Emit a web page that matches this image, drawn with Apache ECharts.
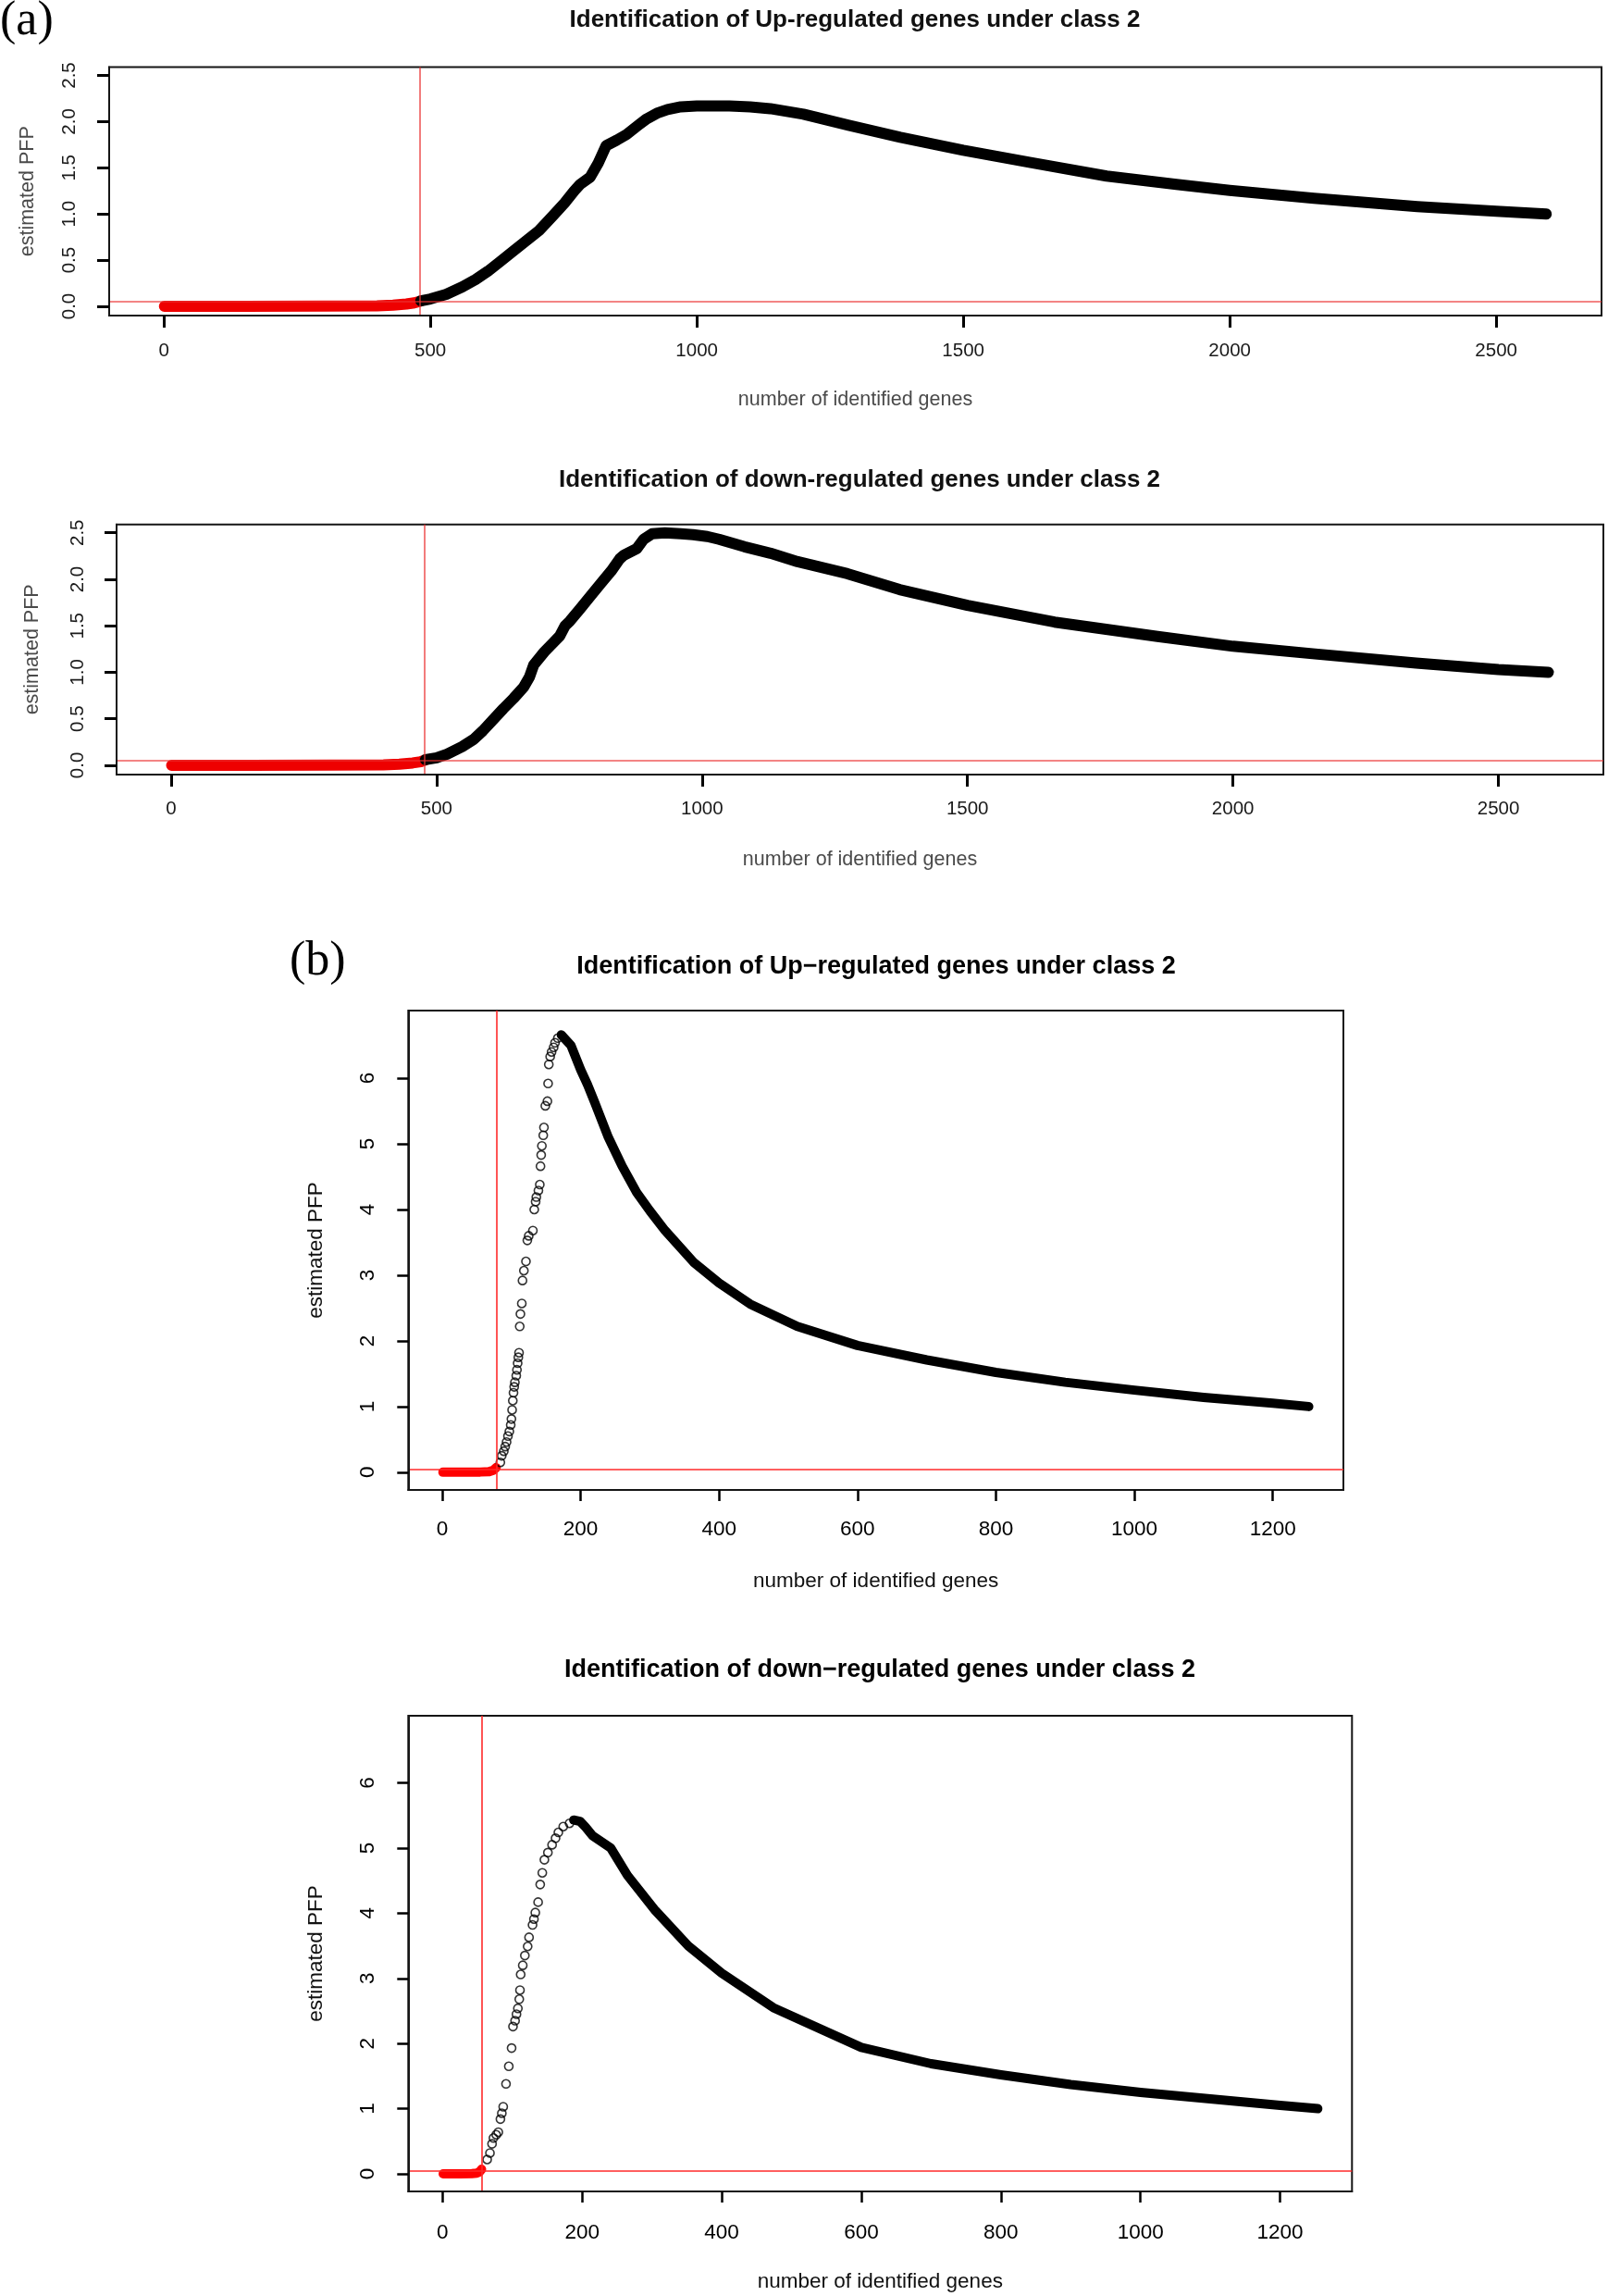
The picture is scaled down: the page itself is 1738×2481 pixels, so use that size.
<!DOCTYPE html>
<html>
<head>
<meta charset="utf-8">
<script src="https://cdn.jsdelivr.net/npm/echarts@6/dist/echarts.min.js"></script>
<style>
html,body{margin:0;padding:0;background:#fff;}
#chart{width:1738px;height:2481px;}
</style>
</head>
<body>
<div id="chart"></div>
<script>
// ---------------- DATA ----------------
// Panel (a), top: Up-regulated genes, class 2
const aUpRedX = [1, 150, 300, 400, 430, 455, 470, 481];
const aUpRedY = [0, 0, 0.002, 0.005, 0.012, 0.025, 0.038, 0.055];
const aUpBlackX = [482,500,530,560,585,608,630,656,680,704,730,752,770,781,800,815,830,850,868,890,906,925,945,970,1000,1030,1061,1100,1138,1200,1285,1382,1500,1624,1769,1900,2000,2158,2352,2500,2594];
const aUpBlackY = [0.06,0.08,0.13,0.21,0.29,0.38,0.48,0.60,0.71,0.82,0.98,1.12,1.25,1.32,1.40,1.55,1.74,1.80,1.86,1.96,2.03,2.09,2.13,2.16,2.17,2.17,2.17,2.16,2.14,2.08,1.96,1.83,1.69,1.56,1.41,1.32,1.255,1.17,1.08,1.03,1.00];

// Panel (a), bottom: down-regulated genes, class 2
const aDownRedX = [1, 150, 300, 400, 430, 455, 470, 478];
const aDownRedY = [0, 0, 0.002, 0.005, 0.012, 0.025, 0.038, 0.055];
const aDownBlackX = [479,500,520,548,570,587,605,626,645,664,675,683,703,720,732,742,751,770,790,810,829,845,853,877,890,906,930,960,983,1010,1032,1080,1129,1180,1274,1372,1500,1664,1858,2000,2150,2345,2500,2594];
const aDownBlackY = [0.06,0.08,0.12,0.20,0.28,0.37,0.48,0.61,0.72,0.84,0.95,1.08,1.22,1.32,1.39,1.50,1.55,1.68,1.82,1.96,2.09,2.22,2.26,2.33,2.43,2.49,2.50,2.49,2.48,2.46,2.43,2.35,2.28,2.19,2.06,1.89,1.72,1.54,1.385,1.28,1.20,1.10,1.03,1.00];

// Panel (b), top: Up-regulated genes, class 2
const bUpRedX = [1, 30, 55, 68, 74, 78];
const bUpRedY = [0, 0, 0.003, 0.01, 0.03, 0.07];
const bUpCircleX = [84,86,89,91,93,95,97,99,100,101,102,103,104,105,107,108,109,110,111,112,113,115,116,118,121,123,125,131,133,135,136,139,141,142,143,144,146,147,149,152,153,154,156,158,161,163,167];
const bUpCircleY = [0.15,0.25,0.32,0.39,0.46,0.55,0.62,0.72,0.81,0.95,1.09,1.21,1.30,1.37,1.47,1.56,1.66,1.75,1.82,2.22,2.41,2.57,2.92,3.07,3.21,3.53,3.60,3.68,4.00,4.12,4.19,4.29,4.38,4.66,4.83,4.97,5.13,5.25,5.58,5.65,5.92,6.21,6.33,6.40,6.47,6.54,6.61];
const bUpTailX = [172,186,200,210,220,240,260,281,300,322,363,400,445,513,600,700,800,900,1000,1100,1200,1252];
const bUpTailY = [6.66,6.50,6.13,5.90,5.64,5.10,4.66,4.26,3.98,3.68,3.20,2.88,2.56,2.22,1.93,1.71,1.52,1.37,1.25,1.14,1.05,1.00];

// Panel (b), bottom: down-regulated genes, class 2
const bDownRedX = [1, 25, 42, 49, 53, 56];
const bDownRedY = [0, 0, 0.003, 0.01, 0.03, 0.07];
const bDownCircleX = [64,68,71,73,77,80,83,85,87,91,95,99,101,104,106,108,110,111,112,115,118,122,124,129,131,133,137,140,143,146,151,157,162,166,173,182];
const bDownCircleY = [0.22,0.32,0.46,0.55,0.60,0.64,0.84,0.93,1.03,1.38,1.65,1.93,2.26,2.35,2.45,2.54,2.68,2.82,3.06,3.20,3.35,3.49,3.63,3.82,3.91,4.01,4.17,4.44,4.62,4.82,4.93,5.05,5.15,5.24,5.33,5.38];
const bDownTailX = [188,197,205,215,241,265,305,352,400,474,600,700,800,900,1000,1100,1200,1254];
const bDownTailY = [5.43,5.41,5.32,5.19,5.00,4.58,4.04,3.50,3.08,2.55,1.94,1.69,1.52,1.37,1.25,1.15,1.05,1.00];

// cut-off lines (red)
const cutoffX = [481, 478, 78.5, 55.7];
const pfpLevel = 0.05;

// tick values
const aXTicks = [0, 500, 1000, 1500, 2000, 2500];
const aYTicks = [0, 0.5, 1.0, 1.5, 2.0, 2.5];
const bXTicks = [0, 200, 400, 600, 800, 1000, 1200];
const bYTicks = [0, 1, 2, 3, 4, 5, 6];

// texts
const titles = [
  'Identification of Up-regulated genes under class 2',
  'Identification of down-regulated genes under class 2',
  'Identification of Up\u2212regulated genes under class 2',
  'Identification of down\u2212regulated genes under class 2'
];
const xName = 'number of identified genes';
const yName = 'estimated PFP';

// ---------------- CHART ----------------
const zip = (xs, ys) => xs.map((x, i) => [x, ys[i]]);
const SANS = "'Liberation Sans', Arial, Helvetica, sans-serif";
const SERIF = "'Liberation Serif', 'Times New Roman', serif";

const grids = [
  {left: 118, top: 72.5, width: 1613, height: 268.5},
  {left: 126, top: 566.7, width: 1607, height: 270.3},
  {left: 441.3, top: 1092, width: 1010.7, height: 518},
  {left: 441.3, top: 1854, width: 1020, height: 514}
].map(g => Object.assign({show: true, borderColor: '#151515', borderWidth: 2}, g));

const panelStyle = [
  {font: SANS, size: 20.5, nsize: 21.5, color: '#1a1a1a', nameColor: '#4a4a4a', tick: 13, tickW: 3, xMargin: 28, xGap: 80, yMargin: 32, yGap: 77,
   xmin: -102.7, xmax: 2697.7, ymin: -0.1, ymax: 2.59, xt: aXTicks, yt: aYTicks, fmt: v => v.toFixed(1), red: 'rgba(235,50,50,0.8)'},
  {font: SANS, size: 20.5, nsize: 21.5, color: '#1a1a1a', nameColor: '#4a4a4a', tick: 13, tickW: 3, xMargin: 27, xGap: 81, yMargin: 31, yGap: 80,
   xmin: -102.7, xmax: 2697.7, ymin: -0.1, ymax: 2.59, xt: aXTicks, yt: aYTicks, fmt: v => v.toFixed(1), red: 'rgba(235,50,50,0.8)'},
  {font: SANS, size: 22.5, nsize: 22.5, color: '#000', nameColor: '#111', tick: 12, tickW: 2.5, xMargin: 31, xGap: 87, yMargin: 32, yGap: 88,
   xmin: -49, xmax: 1302, ymin: -0.27, ymax: 7.03, xt: bXTicks, yt: bYTicks, fmt: v => String(v), red: '#ff2a2a'},
  {font: SANS, size: 22.5, nsize: 22.5, color: '#000', nameColor: '#111', tick: 12, tickW: 2.5, xMargin: 33, xGap: 86, yMargin: 32, yGap: 88,
   xmin: -49, xmax: 1303, ymin: -0.27, ymax: 7.03, xt: bXTicks, yt: bYTicks, fmt: v => String(v), red: '#ff2a2a'}
];

const xAxes = panelStyle.map((p, i) => ({
  type: 'value', gridIndex: i, min: p.xmin, max: p.xmax, z: 5,
  axisLine: {show: true, onZero: false, lineStyle: {color: '#151515', width: 2}}, splitLine: {show: false},
  axisTick: {show: true, length: p.tick, customValues: p.xt, lineStyle: {color: '#000', width: p.tickW}},
  axisLabel: {customValues: p.xt, margin: p.xMargin, fontFamily: p.font, fontSize: p.size, color: p.color,
              formatter: v => String(v)},
  name: xName, nameLocation: 'middle', nameGap: p.xGap,
  nameTextStyle: {fontFamily: p.font, fontSize: p.nsize, color: p.nameColor}
}));

const yAxes = panelStyle.map((p, i) => ({
  type: 'value', gridIndex: i, min: p.ymin, max: p.ymax, z: 5,
  axisLine: {show: true, onZero: false, lineStyle: {color: '#151515', width: 2}}, splitLine: {show: false},
  axisTick: {show: true, length: p.tick, customValues: p.yt, lineStyle: {color: '#000', width: p.tickW}},
  axisLabel: {customValues: p.yt, rotate: 90, margin: p.yMargin, fontFamily: p.font, fontSize: p.size,
              color: p.color, formatter: p.fmt},
  name: yName, nameLocation: 'middle', nameGap: p.yGap, nameRotate: 90,
  nameTextStyle: {fontFamily: p.font, fontSize: p.nsize, color: p.nameColor}
}));

const thickLine = (i, data, color, width, z) => ({
  type: 'line', xAxisIndex: i, yAxisIndex: i, data, showSymbol: false, symbol: 'none', silent: true,
  lineStyle: {color, width, cap: 'round', join: 'round'}, z
});
const cutLines = (i) => ({
  silent: true, symbol: 'none', label: {show: false},
  lineStyle: {color: panelStyle[i].red, width: 1.6, type: 'solid'},
  data: [{xAxis: cutoffX[i]}, {yAxis: pfpLevel}]
});
const circles = (i, data) => ({
  type: 'scatter', xAxisIndex: i, yAxisIndex: i, data, symbol: 'circle', symbolSize: 9, silent: true,
  itemStyle: {color: 'rgba(0,0,0,0)', borderColor: '#000', borderWidth: 1.6}, z: 3
});

const series = [];
// (a) top
series.push(thickLine(0, zip(aUpRedX, aUpRedY), '#ee0000', 12, 2));
series.push(Object.assign(thickLine(0, zip(aUpBlackX, aUpBlackY), '#000', 12, 3), {markLine: cutLines(0)}));
// (a) bottom
series.push(thickLine(1, zip(aDownRedX, aDownRedY), '#ee0000', 12, 2));
series.push(Object.assign(thickLine(1, zip(aDownBlackX, aDownBlackY), '#000', 12, 3), {markLine: cutLines(1)}));
// (b) top
series.push(thickLine(2, zip(bUpRedX, bUpRedY), '#ff0000', 10, 2));
series.push(circles(2, zip(bUpCircleX, bUpCircleY)));
series.push(Object.assign(thickLine(2, zip(bUpTailX, bUpTailY), '#000', 10, 3), {markLine: cutLines(2)}));
// (b) bottom
series.push(thickLine(3, zip(bDownRedX, bDownRedY), '#ff0000', 10, 2));
series.push(circles(3, zip(bDownCircleX, bDownCircleY)));
series.push(Object.assign(thickLine(3, zip(bDownTailX, bDownTailY), '#000', 10, 3), {markLine: cutLines(3)}));

const titleCfg = [
  {text: '(a)', left: 0, top: -3, padding: 0, textStyle: {fontFamily: SERIF, fontSize: 52, fontWeight: 'normal', color: '#000'}},
  {text: '(b)', left: 313, top: 1013, padding: 0, textStyle: {fontFamily: SERIF, fontSize: 52, fontWeight: 'normal', color: '#000'}},
  {text: titles[0], left: 924, top: 9, textAlign: 'center', padding: 0, textStyle: {fontFamily: SANS, fontSize: 26, fontWeight: 'bold', color: '#111'}},
  {text: titles[1], left: 929, top: 506, textAlign: 'center', padding: 0, textStyle: {fontFamily: SANS, fontSize: 26, fontWeight: 'bold', color: '#111'}},
  {text: titles[2], left: 947, top: 1031, textAlign: 'center', padding: 0, textStyle: {fontFamily: SANS, fontSize: 27, fontWeight: 'bold', color: '#000'}},
  {text: titles[3], left: 951, top: 1791, textAlign: 'center', padding: 0, textStyle: {fontFamily: SANS, fontSize: 27, fontWeight: 'bold', color: '#000'}}
];

const chart = echarts.init(document.getElementById('chart'), null, {renderer: 'canvas', width: 1738, height: 2481});
chart.setOption({
  animation: false,
  backgroundColor: '#ffffff',
  title: titleCfg,
  grid: grids,
  xAxis: xAxes,
  yAxis: yAxes,
  series: series
});
</script>
</body>
</html>
